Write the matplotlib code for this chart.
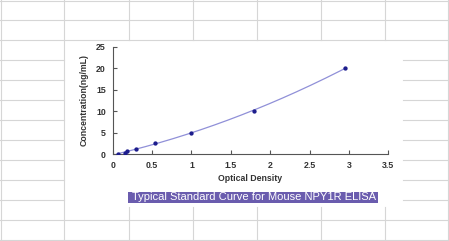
import numpy as np
import matplotlib
matplotlib.use("Agg")
import matplotlib.pyplot as plt
from matplotlib.lines import Line2D
from matplotlib.patches import Rectangle

# Data
od = [0.07, 0.15, 0.18, 0.30, 0.54, 0.99, 1.79, 2.95]
conc = [0.0, 0.312, 0.625, 1.25, 2.5, 5.0, 10.0, 20.0]
xticks = [0, 0.5, 1, 1.5, 2, 2.5, 3, 3.5]
xticklabels = ["0", "0.5", "1", "1.5", "2", "2.5", "3", "3.5"]
yticks = [0, 5, 10, 15, 20, 25]
title = "Typical Standard Curve for Mouse NPY1R ELISA"
xlabel = "Optical Density"
ylabel = "Concentration(ng/mL)"

W, H = 449, 241
fig = plt.figure(figsize=(W / 100, H / 100), dpi=100)
fig.patch.set_facecolor("white")

grid_c = "#d6d6d6"
def hline(y, x0, x1):
    fig.add_artist(Line2D([x0 / W, x1 / W], [1 - y / H, 1 - y / H], color=grid_c, lw=0.8))
def vline(x, y0, y1):
    fig.add_artist(Line2D([x / W, x / W], [1 - y0 / H, 1 - y1 / H], color=grid_c, lw=0.8))

# spreadsheet background grid
cols = [1, 64, 129, 193, 257, 321, 385, 448]
rows = [1, 20, 40, 60, 80, 100, 120, 140, 160, 180, 200, 220, 240]
box_x0, box_x1, box_y0, box_y1 = 64, 403, 40, 207
for y in rows:
    if box_y0 < y < box_y1:
        hline(y, 0, box_x0)
        hline(y, box_x1, W)
    else:
        hline(y, 0, W)
for x in cols:
    if box_x0 < x < box_x1:
        vline(x, 0, box_y0)
        vline(x, box_y1, H)
    else:
        vline(x, 0, H)
fig.add_artist(Rectangle((box_x0 / W + 0.001, 1 - box_y1 / H), (box_x1 - box_x0) / W - 0.002,
                         (box_y1 - box_y0) / H - 0.002, transform=fig.transFigure,
                         facecolor="white", edgecolor="none", zorder=1))

ax = fig.add_axes([112.7 / W, 1 - 154 / H, (388.3 - 112.7) / W, (154 - 46.7) / H])
ax.set_zorder(5)
ax.patch.set_alpha(0)

coef = np.polyfit(od, conc, 2)
xs = np.linspace(min(od), max(od), 200)
ax.plot(xs, np.polyval(coef, xs), color="#9090d8", lw=0.9, zorder=2)
ax.plot(od, conc, "o", color="#1c1c8c", ms=2.1, zorder=3)

ax.set_xlim(0, 3.5)
ax.set_ylim(0, 25)
ax.set_xticks(xticks)
ax.set_xticklabels(xticklabels)
ax.set_yticks(yticks)
for s in ["top", "right"]:
    ax.spines[s].set_visible(False)
for s in ["left", "bottom"]:
    ax.spines[s].set_color("#555555")
    ax.spines[s].set_linewidth(0.8)
ax.tick_params(direction="in", length=3, width=0.8, color="#555555",
               labelsize=6.3, labelcolor="#333333", pad=5)
for lab in ax.get_xticklabels() + ax.get_yticklabels():
    lab.set_fontweight("bold")
    lab.set_family("Liberation Sans")
ax.set_xlabel(xlabel, fontsize=6.3, fontweight="bold", color="#333333",
              family="Liberation Sans", labelpad=3)
ax.set_ylabel(ylabel, fontsize=6.3, fontweight="bold", color="#333333",
              family="Liberation Sans", labelpad=5)

# title box
fig.add_artist(Rectangle((128 / W, 1 - 203 / H), (378 - 128) / W, 11 / H,
                         transform=fig.transFigure, facecolor="#6a5cae",
                         edgecolor="none", zorder=6))
fig.text(254 / W, 1 - 197.5 / H, title, ha="center", va="center", color="white",
         fontsize=8.0, family="Liberation Sans", zorder=7)

fig.savefig("out.png", dpi=100)
